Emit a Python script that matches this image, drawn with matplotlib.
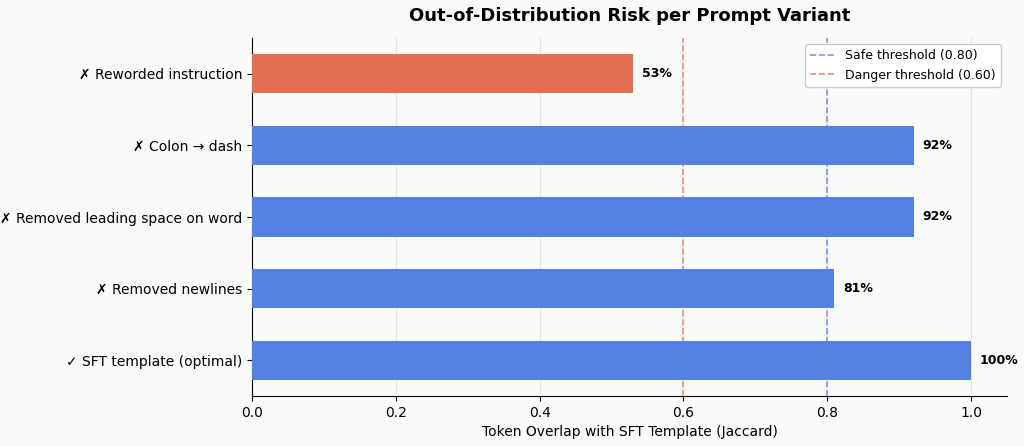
import matplotlib
matplotlib.use("Agg")
import matplotlib.pyplot as plt

labels = ["✓ SFT template (optimal)", "✗ Removed newlines", "✗ Removed leading space on word",
          "✗ Colon → dash", "✗ Reworded instruction"]
values = [1.00, 0.81, 0.92, 0.92, 0.53]
pct = ["100%", "81%", "92%", "92%", "53%"]
safe, danger = 0.80, 0.60

blue, red = "#5382E3", "#E37053"
colors = [red if v < danger else blue for v in values]

fig = plt.figure(figsize=(10.24, 4.46), dpi=100, facecolor="#FAFAF8")
ax = fig.add_axes([252/1024, 1-396/446, 755/1024, 358/446])
ax.set_facecolor("#FAFAF8")
y = range(len(labels))
ax.barh(y, values, height=0.55, color=colors, zorder=3)
for i, (v, t) in enumerate(zip(values, pct)):
    ax.text(v + 0.012, i, t, va="center", ha="left", fontsize=9, fontweight="bold")
ax.axvline(safe, color="#7A9BE8", ls="--", lw=1.2, label="Safe threshold (0.80)", zorder=2)
ax.axvline(danger, color="#E8907A", ls="--", lw=1.2, label="Danger threshold (0.60)", zorder=2)
ax.set_yticks(list(y))
ax.set_yticklabels(labels, fontsize=10)
ax.set_xlim(0, 1.05)
ax.set_ylim(-0.5, 4.5)
ax.set_xticks([0, 0.2, 0.4, 0.6, 0.8, 1.0])
ax.set_xticklabels(["0.0", "0.2", "0.4", "0.6", "0.8", "1.0"], fontsize=10)
ax.grid(axis="x", color="#E4E4E4", lw=0.8, zorder=0)
ax.spines["top"].set_visible(False)
ax.spines["right"].set_visible(False)
ax.set_xlabel("Token Overlap with SFT Template (Jaccard)", fontsize=10)
ax.set_title("Out-of-Distribution Risk per Prompt Variant", fontsize=13, fontweight="bold", pad=12)
ax.legend(loc="upper right", fontsize=9, framealpha=1, facecolor="white")
fig.savefig("out.png", dpi=100, facecolor=fig.get_facecolor())
